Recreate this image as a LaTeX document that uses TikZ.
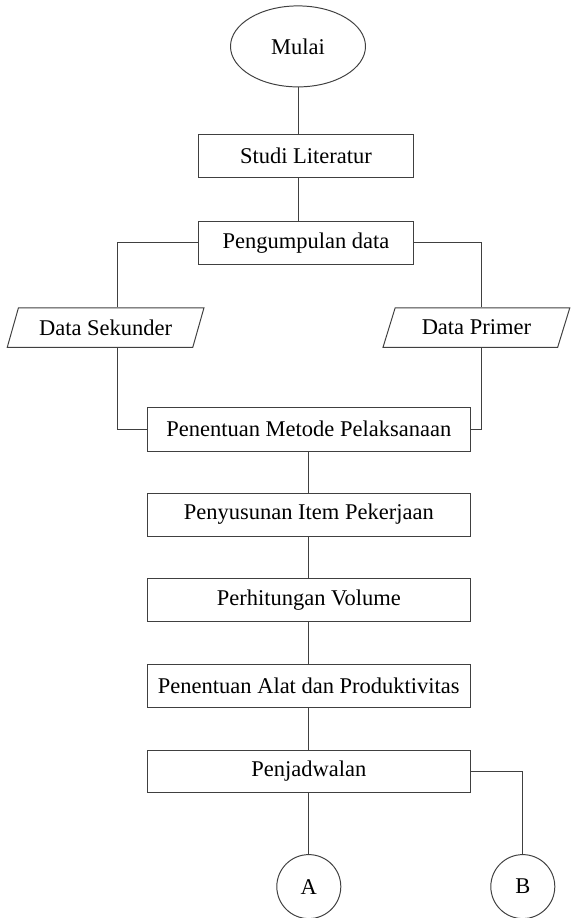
\documentclass[tikz,border=0pt]{standalone}
\usepackage{fontspec}
\setmainfont{Liberation Serif}
\usetikzlibrary{positioning,shapes.geometric}

\begin{document}
\begin{tikzpicture}[
  node distance=2.14cm,
  font=\fontsize{16}{19}\selectfont,
  line/.style={draw=black!75,line width=0.7pt},
  terminal/.style={draw=black!75,line width=0.7pt,ellipse,minimum width=3.375cm,minimum height=2.025cm},
  box/.style={draw=black!75,line width=0.7pt,rectangle,minimum height=1.07cm,text centered},
  io/.style={draw=black!75,line width=0.7pt,trapezium,trapezium left angle=70,trapezium right angle=110,trapezium stretches=true,minimum height=0.99cm},
  conn/.style={draw=black!75,line width=0.7pt,circle,minimum size=1.6cm,inner sep=0pt}]
\useasboundingbox (0,0) rectangle (14.275,-22.95);
\node[terminal] (Mulai) at (7.45,-1.16) {Mulai};
\node[box,below of=Mulai,minimum width=5.375cm,xshift=0.2cm,yshift=-0.6cm] (Studi) {Studi Literatur};
\node[box,below of=Studi,minimum width=5.375cm,yshift=-0.03cm] (Peng) {Pengumpulan data};
\node[io,minimum width=4.92cm] (Sekunder) at (2.64,-8.19) {Data Sekunder};
\node[io,minimum width=4.72cm] (Primer) at (11.91,-8.19) {Data Primer};
\node[box,minimum width=8.06cm,minimum height=1.1cm] (Metode) at (7.72,-10.725) {Penentuan Metode Pelaksanaan};
\node[box,below of=Metode,minimum width=8.06cm] (Susun) {Penyusunan Item Pekerjaan};
\node[box,below of=Susun,minimum width=8.06cm] (Hitung) {Perhitungan Volume};
\node[box,below of=Hitung,minimum width=8.06cm] (Alat) {Penentuan Alat dan Produktivitas};
\node[box,below of=Alat,minimum width=8.06cm] (Jadwal) {Penjadwalan};
\node[conn,below of=Jadwal,yshift=-0.74cm] (A) {A};
\node[conn,right of=A,xshift=3.21cm] (B) {B};

\draw[line] (Mulai.south) -- (Mulai.south |- Studi.north);
\draw[line] (Mulai.south |- Studi.south) -- (Mulai.south |- Peng.north);
\draw[line] (Peng.west) -| ([xshift=0.3cm]Sekunder.north);
\draw[line] (Peng.east) -| ([xshift=0.12cm]Primer.north);
\draw[line] ([xshift=0.3cm]Sekunder.south) |- (Metode.west);
\draw[line] ([xshift=0.12cm]Primer.south) |- (Metode.east);
\draw[line] (Metode) -- (Susun);
\draw[line] (Susun) -- (Hitung);
\draw[line] (Hitung) -- (Alat);
\draw[line] (Alat) -- (Jadwal);
\draw[line] (Jadwal) -- (A);
\draw[line] (Jadwal.east) -| (B.north);
\end{tikzpicture}
\end{document}
